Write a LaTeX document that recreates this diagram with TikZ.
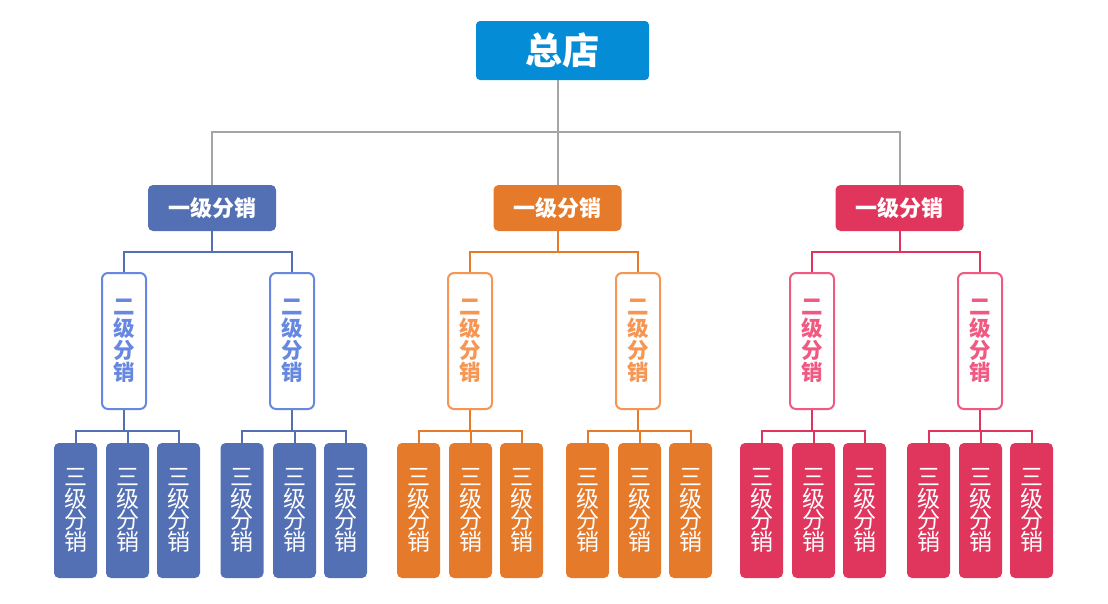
\documentclass[tikz,border=0pt]{standalone}
\usepackage{fontspec}
\newfontfamily\cjk{Noto Sans CJK SC}
\definecolor{topblue}{RGB}{4,140,215}
\definecolor{cblue}{RGB}{84,112,180}
\definecolor{corange}{RGB}{229,122,43}
\definecolor{cred}{RGB}{224,54,94}
\definecolor{lblue}{RGB}{102,136,224}
\definecolor{lorange}{RGB}{246,150,82}
\definecolor{lred}{RGB}{240,90,130}
\definecolor{lgrey}{RGB}{165,165,165}
\tikzset{
  topbox/.style={fill=topblue, rounded corners=4pt, minimum width=173pt, minimum height=59pt, inner sep=0pt, text=white, font={\cjk\bfseries\fontsize{37}{38}\selectfont}},
  lvone/.style={fill=#1, rounded corners=5pt, minimum width=128pt, minimum height=46pt, inner sep=0pt, text=white, font={\cjk\bfseries\fontsize{22}{22}\selectfont}},
  lvtwo/.style={draw=#1, line width=2pt, fill=white, rounded corners=6pt, minimum width=44pt, minimum height=136pt, inner sep=0pt, text=#1, align=center, font={\cjk\bfseries\fontsize{21.5}{22}\selectfont}},
  lvthree/.style={fill=#1, rounded corners=5pt, minimum width=43pt, minimum height=135pt, inner sep=0pt, text=white, align=center, font={\cjk\fontsize{23}{21.5}\selectfont}},
  gline/.style={draw=lgrey, line width=2pt},
  cline/.style={draw=#1, line width=2pt},
}
\begin{document}
\begin{tikzpicture}[x=1pt,y=-1pt]
\useasboundingbox (0,0) rectangle (1108,603);
\node[topbox] (top) at (562.5,50.5) {总店};
% level 1
\node[lvone=cblue] (b1) at (212,208) {一级分销};
\node[lvone=corange] (o1) at (557.5,208) {一级分销};
\node[lvone=cred] (r1) at (899.5,208) {一级分销};
\coordinate (hub) at (557,132);
\draw[gline] (o1.north) -- (o1.north |- top.south);
\draw[gline] (b1.north) |- (hub) -| (r1.north);
% level 2 and 3
\foreach \c/\lc/\p/\xa/\xb/\ya/\yb/\yc/\yd/\ye/\yf in {
  cblue/lblue/b/124/292/75.5/127.5/178.5/242/294.5/345.5,
  corange/lorange/o/470/638/418.5/470.5/521.5/587.5/639.5/690.5,
  cred/lred/r/812/980/761.5/813.5/864.5/928.5/980.5/1031.5}{
  \node[lvtwo=\lc] (\p2a) at (\xa,341) {二\\级\\分\\销};
  \node[lvtwo=\lc] (\p2b) at (\xb,341) {二\\级\\分\\销};
  \coordinate (\p h1) at (\xa,252);
  \draw[cline=\c] (\p1.south) -- (\p1.south |- \p h1) (\p2a.north) |- (\p h1) -| (\p2b.north);
  \node[lvthree=\c] (\p3a) at (\ya,510.5) {三\\级\\分\\销};
  \node[lvthree=\c] (\p3b) at (\yb,510.5) {三\\级\\分\\销};
  \node[lvthree=\c] (\p3c) at (\yc,510.5) {三\\级\\分\\销};
  \node[lvthree=\c] (\p3d) at (\yd,510.5) {三\\级\\分\\销};
  \node[lvthree=\c] (\p3e) at (\ye,510.5) {三\\级\\分\\销};
  \node[lvthree=\c] (\p3f) at (\yf,510.5) {三\\级\\分\\销};
  \coordinate (\p h2) at (\ya,431);
  \coordinate (\p h3) at (\yd,431);
  \draw[cline=\c] (\p2a.south) -- (\p2a.south |- \p h2)
     (\p3a.north) |- (\p h2) -| (\p3c.north)
     (\p3b.north) -- (\p3b.north |- \p h2);
  \draw[cline=\c] (\p2b.south) -- (\p2b.south |- \p h3)
     (\p3d.north) |- (\p h3) -| (\p3f.north)
     (\p3e.north) -- (\p3e.north |- \p h3);
}
\end{tikzpicture}
\end{document}
